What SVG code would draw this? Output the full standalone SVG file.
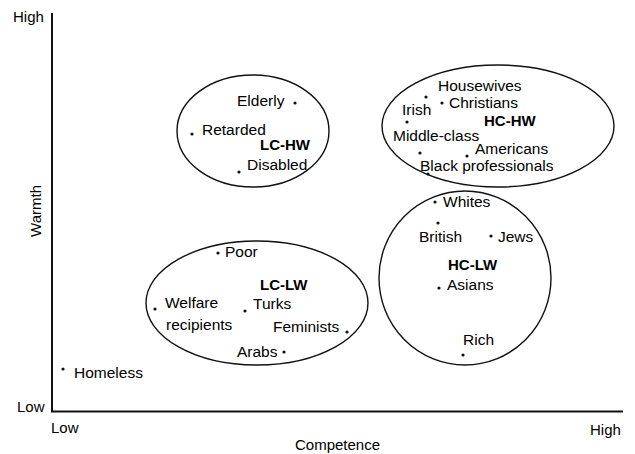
<svg xmlns="http://www.w3.org/2000/svg" width="635" height="454" viewBox="0 0 635 454">
<style>
text{font-family:"Liberation Sans",Arial,sans-serif;font-size:15.5px;fill:#000}
.b{font-weight:bold;font-size:15px}
.ax{font-size:15px}
.ring{fill:none;stroke:#111;stroke-width:1.4}
.dot{fill:#111}
</style>
<rect width="635" height="454" fill="#fff"/>
<g id="axes">
<path d="M52 13 V411.5 H623" fill="none" stroke="#111" stroke-width="2"/>
<text class="ax" x="13" y="22">High</text>
<text class="ax" x="17" y="412">Low</text>
<text class="ax" x="51" y="433">Low</text>
<text class="ax" x="590" y="435">High</text>
<text class="ax" x="295" y="450">Competence</text>
<text class="ax" x="0" y="0" text-anchor="middle" transform="translate(41 211) rotate(-90)">Warmth</text>
</g>
<g id="homeless">
<circle class="dot" cx="63" cy="369" r="1.6"/>
<text x="74" y="378">Homeless</text>
</g>
<g id="lc-hw">
<ellipse class="ring" cx="253" cy="131" rx="76" ry="56"/>
<text class="b" x="260" y="150">LC-HW</text>
<g id="elderly"><circle class="dot" cx="295" cy="103" r="1.6"/><text x="237" y="106">Elderly</text></g>
<g id="retarded"><circle class="dot" cx="192" cy="134" r="1.6"/><text x="202" y="135">Retarded</text></g>
<g id="disabled"><circle class="dot" cx="239" cy="172" r="1.6"/><text x="247" y="170">Disabled</text></g>
</g>
<g id="hc-hw">
<ellipse class="ring" cx="498" cy="126" rx="116" ry="61"/>
<text class="b" x="484" y="126">HC-HW</text>
<g id="housewives"><circle class="dot" cx="426" cy="97" r="1.6"/><text x="438" y="91">Housewives</text></g>
<g id="christians"><circle class="dot" cx="442" cy="103" r="1.6"/><text x="449" y="108">Christians</text></g>
<g id="irish"><circle class="dot" cx="407" cy="122" r="1.6"/><text x="402" y="115">Irish</text></g>
<g id="middle-class"><circle class="dot" cx="420" cy="153" r="1.6"/><text x="393" y="141">Middle-class</text></g>
<g id="americans"><circle class="dot" cx="467" cy="156" r="1.6"/><text x="475" y="154">Americans</text></g>
<g id="black-professionals"><circle class="dot" cx="428" cy="174" r="1.6"/><text x="420" y="171">Black professionals</text></g>
</g>
<g id="hc-lw">
<ellipse class="ring" cx="465" cy="278" rx="86" ry="87"/>
<text class="b" x="448" y="270">HC-LW</text>
<g id="whites"><circle class="dot" cx="435" cy="202" r="1.6"/><text x="443" y="207">Whites</text></g>
<g id="british"><circle class="dot" cx="438" cy="223" r="1.6"/><text x="419" y="242">British</text></g>
<g id="jews"><circle class="dot" cx="491" cy="236" r="1.6"/><text x="498" y="242">Jews</text></g>
<g id="asians"><circle class="dot" cx="439" cy="288" r="1.6"/><text x="447" y="290">Asians</text></g>
<g id="rich"><circle class="dot" cx="463" cy="355" r="1.6"/><text x="463" y="345">Rich</text></g>
</g>
<g id="lc-lw">
<ellipse class="ring" cx="257" cy="303" rx="111" ry="62"/>
<text class="b" x="260" y="290">LC-LW</text>
<g id="poor"><circle class="dot" cx="218" cy="253" r="1.6"/><text x="225" y="257">Poor</text></g>
<g id="welfare"><circle class="dot" cx="155" cy="309" r="1.6"/><text x="165" y="308">Welfare</text><text x="166" y="330">recipients</text></g>
<g id="turks"><circle class="dot" cx="245" cy="311" r="1.6"/><text x="253" y="309">Turks</text></g>
<g id="feminists"><circle class="dot" cx="347" cy="332" r="1.6"/><text x="273" y="332">Feminists</text></g>
<g id="arabs"><circle class="dot" cx="284" cy="352" r="1.6"/><text x="237" y="357">Arabs</text></g>
</g>
<g id="connectors"/>
</svg>
